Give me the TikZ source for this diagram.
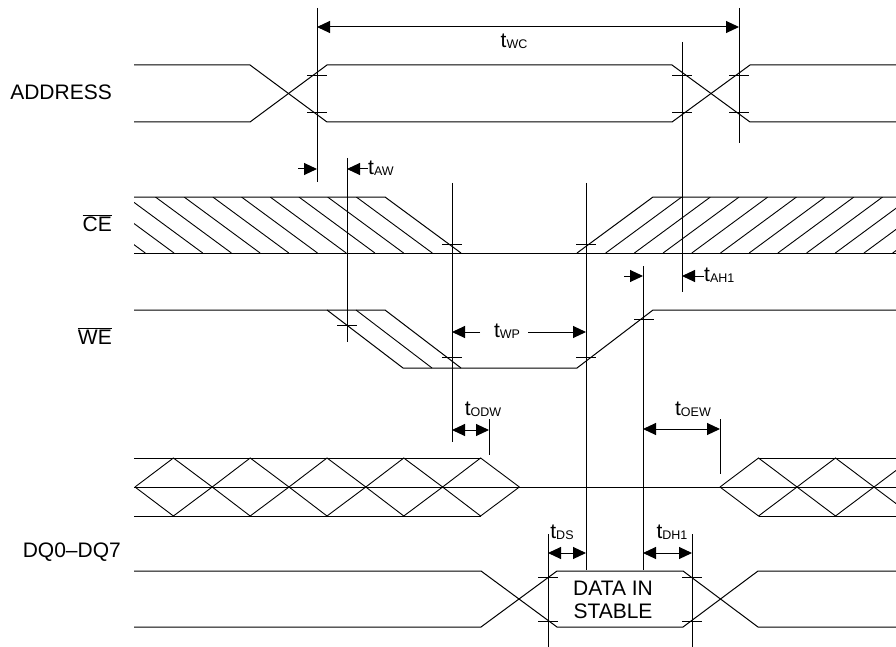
\documentclass[tikz,border=0pt]{standalone}
\usepackage{fontspec}
\setmainfont{Liberation Sans}
\usetikzlibrary{arrows.meta}
\newcommand{\tsub}[1]{{\fontsize{21}{21}\selectfont t}{\fontsize{12.5}{12.5}\selectfont\raisebox{-1pt}{#1}}}
\begin{document}
\begin{tikzpicture}[x=1pt,y=-1pt,
  sig/.style={line width=1pt, line join=miter},
  thin1/.style={line width=0.9pt},
  tip/.style={line width=1pt,-{Triangle[length=13pt,width=12pt]}},
  dtip/.style={line width=1pt,{Triangle[length=13pt,width=12pt]}-{Triangle[length=13pt,width=12pt]}},
  lbl/.style={font=\fontsize{21}{21}\selectfont, inner sep=0pt},
  tl/.style={inner sep=0pt},
]
\useasboundingbox (0,0) rectangle (896,647);

% ---------- ADDRESS ----------
\draw[sig] (134,65)--(250,65)--(327,122)--(672,122)--(750,65)--(896,65);
\draw[sig] (134,122)--(250,122)--(327,65)--(672,65)--(750,122)--(896,122);

% ---------- CE ----------
\draw[sig] (134,197)--(385,197)--(461,253);
\draw[sig] (134,253)--(896,253);
\draw[sig] (577,253)--(653,197)--(896,197);
\begin{scope}
  \clip (134,197)--(385,197)--(461,253)--(134,253)--cycle;
  \foreach \k in {1,...,11} \draw[thin1] ({385-28.7*\k},197)--++(76,56);
\end{scope}
\begin{scope}
  \clip (577,253)--(653,197)--(896,197)--(896,253)--cycle;
  \foreach \k in {1,...,11} \draw[thin1] ({577+28.7*\k},253)--++(76,-56);
\end{scope}

% ---------- WE ----------
\draw[sig] (134,310)--(385,310)--(461,368);
\draw[sig] (327,310)--(403,368)--(577,368)--(653,310)--(896,310);
\draw[thin1] (356,310)--(432,368);

% ---------- DQ upper (don't care) ----------
\draw[sig] (134,458)--(480.6,458);
\draw[sig] (134,516)--(480.6,516);
\draw[sig] (134,487)--(896,487);
\draw[thin1] (135,487) \foreach \i in {0,...,4} {--({173.4+76.8*\i},458)--({212.2+76.8*\i},487)};
\draw[thin1] (135,487) \foreach \i in {0,...,4} {--({173.4+76.8*\i},516)--({212.2+76.8*\i},487)};
\begin{scope}
  \clip (700,440) rectangle (896,530);
  \draw[thin1] (720,487) \foreach \i in {0,1,2} {--({758.5+77*\i},458)--({797+77*\i},487)};
  \draw[thin1] (720,487) \foreach \i in {0,1,2} {--({758.5+77*\i},516)--({797+77*\i},487)};
  \draw[sig] (758.5,458)--(896,458);
  \draw[sig] (758.5,516)--(896,516);
\end{scope}

% ---------- DQ lower (data in) ----------
\draw[sig] (134,571)--(481,571)--(557,627)--(683,627)--(758,571)--(896,571);
\draw[sig] (134,627)--(481,627)--(557,571)--(683,571)--(758,627)--(896,627);

% ---------- reference verticals ----------
\draw[thin1] (317,8)--(317,182);
\draw[thin1] (739,8)--(739,143);
\draw[thin1] (682,42)--(682,292);
\draw[thin1] (347,158)--(347,342);
\draw[thin1] (452,183)--(452,442);
\draw[thin1] (586,183)--(586,570);
\draw[thin1] (643,266)--(643,570);
\draw[thin1] (489,419)--(489,455);
\draw[thin1] (720,419)--(720,474);
\draw[thin1] (548,534)--(548,647);
\draw[thin1] (692,534)--(692,647);

% ---------- ticks ----------
\foreach \x/\y in {317/75,317/112,682/75,682/112,739/75,739/112,347/325,452/244,452/357,586/244,586/357,644/319,548/577,548/621,692/577,692/621}
  \draw[thin1] ({\x-10},\y)--({\x+10},\y);

% ---------- timing arrows ----------
\draw[dtip] (317,27)--(739,27);
\node[tl] at (514,41) {\tsub{WC}};

\draw[tip] (298,169)--(317,169);
\draw[tip] (368,169)--(347,169);
\node[tl,anchor=west] at (368,168) {\tsub{AW}};

\draw[tip] (624,276)--(643,276);
\draw[tip] (704,276)--(682,276);
\node[tl,anchor=west] at (704,275) {\tsub{AH1}};

\draw[tip] (480,332)--(452,332);
\node[tl] at (507,331) {\tsub{WP}};
\draw[tip] (528,332)--(586,332);

\draw[dtip] (452,430)--(489,430);
\node[tl] at (483,409) {\tsub{ODW}};
\draw[dtip] (643,429)--(720,429);
\node[tl] at (693,409) {\tsub{OEW}};

\draw[dtip] (548,553)--(586,553);
\node[tl] at (562,532) {\tsub{DS}};
\draw[dtip] (643,553)--(692,553);
\node[tl] at (672,532) {\tsub{DH1}};

\node[lbl,align=center,font=\fontsize{21}{23}\selectfont] at (613,600) {DATA IN\\STABLE};

% ---------- signal names ----------
\node[lbl,anchor=base east] at (112,100) {ADDRESS};
\node[lbl,anchor=base east] at (112,231) {$\overline{\hbox{CE}}$};
\node[lbl,anchor=base east] at (112,344) {$\overline{\hbox{WE}}$};
\node[lbl,anchor=base east] at (121,557) {DQ0--DQ7};
\end{tikzpicture}
\end{document}
